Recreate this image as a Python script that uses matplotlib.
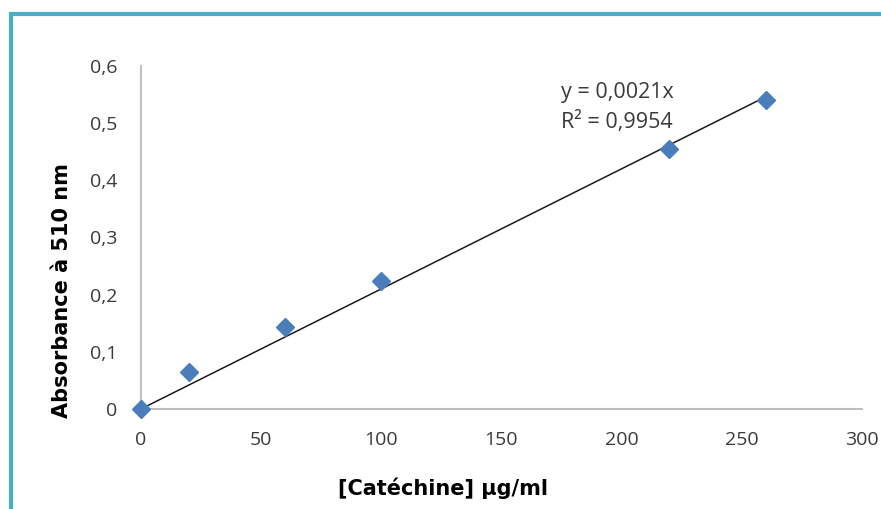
import matplotlib.pyplot as plt
import numpy as np
from matplotlib.patches import Rectangle

# data
concentration = [0, 20, 60, 100, 220, 260]
absorbance = [0.0, 0.065, 0.144, 0.224, 0.455, 0.540]
slope = 0.0021
r2 = 0.9954

x_ticks = [0, 50, 100, 150, 200, 250, 300]
y_ticks = [0, 0.1, 0.2, 0.3, 0.4, 0.5, 0.6]
y_tick_labels = ["0", "0,1", "0,2", "0,3", "0,4", "0,5", "0,6"]

fig = plt.figure(figsize=(8.81, 5.09), dpi=100)
ax = fig.add_axes([0.160, 0.1965, 0.818, 0.6738])

# blue chart frame (top and left edges only are visible)
fig.patches.append(
    Rectangle(
        (11 / 881, -0.2),
        1.2,
        1.2 - 14 / 509,
        transform=fig.transFigure,
        fill=False,
        edgecolor="#4bacc6",
        lw=3,
    )
)

# linear trendline through origin
x_fit = np.array([0, max(concentration)])
ax.plot(x_fit, slope * x_fit, color="#1a1a1a", lw=1.1, zorder=2)

# measured points
ax.plot(
    concentration,
    absorbance,
    linestyle="none",
    marker="D",
    markersize=9,
    color="#4a7ebb",
    zorder=3,
    clip_on=False,
)

eq_style = dict(fontsize=15.5, color="#3a3a3a", family="Open Sans", va="center", ha="left")
ax.text(175, 0.553, "y = 0,0021x", **eq_style)
ax.text(175, 0.502, f"R² = {r2:.4f}".replace(".", ","), **eq_style)

ax.set_xlim(0, 300)
ax.set_ylim(0, 0.6)
ax.set_xticks(x_ticks)
ax.set_yticks(y_ticks)
ax.set_yticklabels(y_tick_labels)

for s in ["top", "right"]:
    ax.spines[s].set_visible(False)
for s in ["left", "bottom"]:
    ax.spines[s].set_color("#bfbfbf")
    ax.spines[s].set_linewidth(1.5)

ax.tick_params(length=0, labelsize=14, labelcolor="#3a3a3a")
ax.tick_params(axis="x", pad=16)
ax.tick_params(axis="y", pad=17)
for lab in ax.get_xticklabels() + ax.get_yticklabels():
    lab.set_family("Open Sans")

ax.set_xlabel("[Catéchine] µg/ml", fontsize=15, fontweight="bold", va="center")
ax.set_ylabel("Absorbance à 510 nm", fontsize=15, fontweight="bold", va="center")
ax.xaxis.set_label_coords(0.419, -0.230)
ax.yaxis.set_label_coords(-0.1096, 0.344)

fig.savefig("out.png", dpi=100)
